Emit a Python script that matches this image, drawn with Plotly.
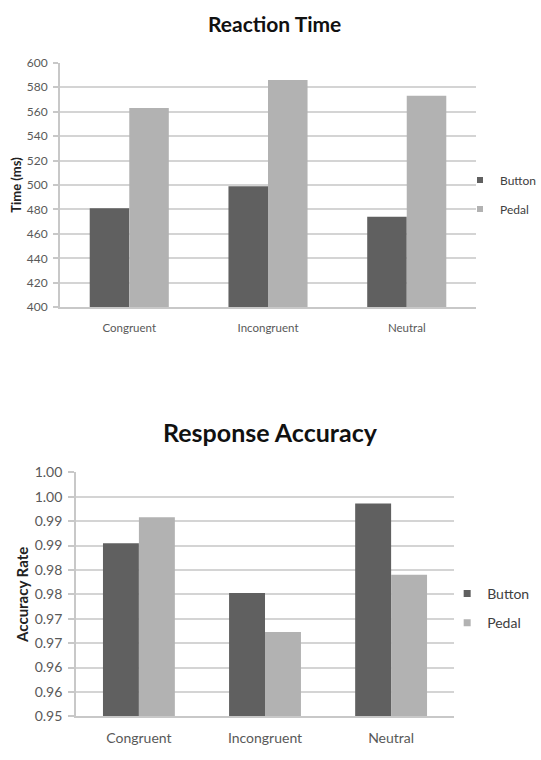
import plotly.graph_objects as go

categories = ["Congruent", "Incongruent", "Neutral"]
series_names = ["Button", "Pedal"]
rt_button = [481, 499, 474]
rt_pedal = [563, 586, 573]
acc_button = [0.9855, 0.9753, 0.9936]
acc_pedal = [0.9908, 0.9673, 0.9790]

rt_ticks = [400, 420, 440, 460, 480, 500, 520, 540, 560, 580, 600]
acc_tickvals = [0.95, 0.955, 0.96, 0.965, 0.97, 0.975, 0.98, 0.985, 0.99, 0.995, 1.0]
acc_ticktext = ["0.95", "0.96", "0.96", "0.97", "0.97", "0.98", "0.98", "0.99", "0.99", "1.00", "1.00"]
acc_grid = [0.955, 0.96, 0.965, 0.97, 0.975, 0.98, 0.985, 0.99, 0.995]

colors = {"Button": "#606060", "Pedal": "#b2b2b2"}
FONT = "Lato"
W, H = 541, 760

def px_x(a, b):
    return [a / W, b / W]

def px_y(top, bottom):
    return [1 - bottom / H, 1 - top / H]

fig = go.Figure()

for name, vals in zip(series_names, [rt_button, rt_pedal]):
    fig.add_trace(go.Bar(x=categories, y=vals, name=name, marker_color=colors[name],
                         marker_line_width=0, xaxis="x", yaxis="y", showlegend=False))
for name, vals in zip(series_names, [acc_button, acc_pedal]):
    fig.add_trace(go.Bar(x=categories, y=vals, name=name, marker_color=colors[name],
                         marker_line_width=0, xaxis="x2", yaxis="y2", showlegend=False))

for name in series_names:
    fig.add_trace(go.Scatter(x=[None], y=[None], mode="markers", name=name,
                             marker=dict(symbol="square", size=6, color=colors[name]),
                             xaxis="x", yaxis="y", legend="legend", legendgroup="a" + name))
    fig.add_trace(go.Scatter(x=[None], y=[None], mode="markers", name=name,
                             marker=dict(symbol="square", size=7, color=colors[name]),
                             xaxis="x2", yaxis="y2", legend="legend2", legendgroup="b" + name))

grid = "#d4d4d4"
axis_line = "#c8c8c8"
tick_font_color = "#595959"

fig.update_layout(
    width=W, height=H,
    margin=dict(l=0, r=0, t=0, b=0),
    paper_bgcolor="white", plot_bgcolor="white",
    font=dict(family=FONT, color=tick_font_color),
    barmode="group", bargap=0.43, bargroupgap=0,
    xaxis=dict(domain=px_x(60, 477), anchor="y", showline=True, linecolor=axis_line, linewidth=1.5,
               ticks="", tickfont=dict(size=11.5, family=FONT, color=tick_font_color),
               ticklabelstandoff=9),
    yaxis=dict(domain=px_y(55, 305), anchor="x", range=[400, 600], tickvals=rt_ticks,
               showline=True, linecolor=axis_line, linewidth=1.5,
               ticks="outside", ticklen=5, tickcolor=axis_line, tickwidth=1.5,
               showgrid=True, gridcolor=grid, gridwidth=1.5,
               tickfont=dict(size=12, family=FONT, color=tick_font_color), ticklabelstandoff=3,
               title=dict(text="<b>Time (ms)</b>", font=dict(size=13, family=FONT, color="#222222"), standoff=2)),
    xaxis2=dict(domain=px_x(76, 455), anchor="y2", showline=True, linecolor=axis_line, linewidth=1.5,
                ticks="", tickfont=dict(size=14, family=FONT, color=tick_font_color),
                ticklabelstandoff=8),
    yaxis2=dict(domain=px_y(474, 723.5), anchor="x2", range=[0.95, 1.0], tickvals=acc_tickvals,
                ticktext=acc_ticktext, showline=True, linecolor=axis_line, linewidth=1.5,
                ticks="outside", ticklen=6, tickcolor=axis_line, tickwidth=1.5, showgrid=False,
                minor=dict(tickvals=acc_grid, showgrid=True, gridcolor=grid, gridwidth=1.5, ticks=""),
                tickfont=dict(size=14, family=FONT, color=tick_font_color), ticklabelstandoff=3,
                title=dict(text="<b>Accuracy Rate</b>", font=dict(size=15, family=FONT, color="#222222"), standoff=2)),
    legend=dict(x=461 / W, y=1 - 160 / H, xanchor="left", yanchor="top",
                font=dict(size=12, family=FONT, color="#404040"), tracegroupgap=10,
                bgcolor="rgba(0,0,0,0)", itemwidth=30),
    legend2=dict(x=448 / W, y=1 - 582 / H, xanchor="left", yanchor="top",
                 font=dict(size=14, family=FONT, color="#404040"), tracegroupgap=8,
                 bgcolor="rgba(0,0,0,0)", itemwidth=30),
    annotations=[
        dict(text="<b>Reaction Time</b>", x=274.7 / W, y=1 - 14.7 / H, xref="paper", yref="paper",
             xanchor="center", yanchor="middle", showarrow=False,
             font=dict(size=21, family=FONT, color="#111111")),
        dict(text="<b>Response Accuracy</b>", x=271 / W, y=1 - 433 / H, xref="paper", yref="paper",
             xanchor="center", yanchor="middle", showarrow=False,
             font=dict(size=25, family=FONT, color="#111111")),
    ],
)

fig.write_html("out.html", config={"displayModeBar": False},
               post_script="document.body.style.margin='0';document.body.style.overflow='hidden';")
